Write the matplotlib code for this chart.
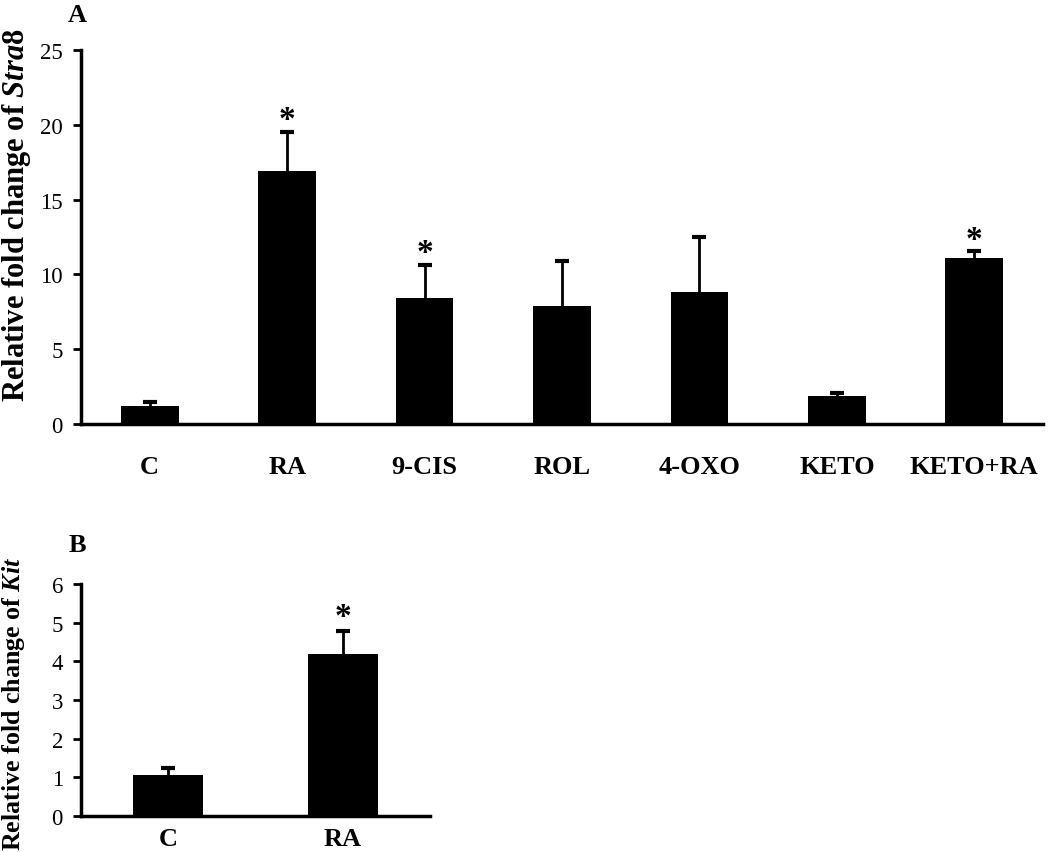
import numpy as np
import matplotlib

matplotlib.use("Agg")
import matplotlib.pyplot as plt

plt.rcParams["font.family"] = ["Liberation Serif", "DejaVu Serif"]
plt.rcParams["mathtext.fontset"] = "custom"
plt.rcParams["mathtext.it"] = "Liberation Serif:italic:bold"
plt.rcParams["mathtext.rm"] = "Liberation Serif:bold"

# panel A: Stra8
groups_a = ["C", "RA", "9-CIS", "ROL", "4-OXO", "KETO", "KETO+RA"]
mean_a = [1.2, 16.9, 8.4, 7.9, 8.8, 1.9, 11.1]
err_a = [0.25, 2.65, 2.25, 3.0, 3.7, 0.2, 0.45]
sig_a = [False, True, True, False, False, False, True]

# panel B: Kit
groups_b = ["C", "RA"]
mean_b = [1.06, 4.18]
err_b = [0.18, 0.6]
sig_b = [False, True]

W, H = 1050, 853
fig = plt.figure(figsize=(W / 100, H / 100), dpi=100)


def panel(rect, groups, mean, err, sig, ymax, step, width, xpad, star_off):
    ax = fig.add_axes(rect)
    x = np.arange(len(groups))
    ax.bar(x, mean, width=width, color="black", zorder=2)
    _, caps, _ = ax.errorbar(x, mean, yerr=[np.zeros(len(mean)), err], fmt="none",
                             ecolor="black", elinewidth=2, capsize=5, capthick=3,
                             zorder=1)
    caps[0].set_visible(False)  # only the upper whisker
    for xi, m, e, s in zip(x, mean, err, sig):
        if s:
            ax.text(xi, m + e + star_off, "*", ha="center", va="center",
                    fontsize=24, fontweight="bold")
    ax.set_xlim(-0.5, len(groups) - 0.5)
    ax.set_ylim(0, ymax)
    ax.set_yticks(np.arange(0, ymax + 0.1, step))
    ax.set_xticks(x)
    ax.set_xticklabels(groups, fontsize=19, fontweight="bold")
    ax.tick_params(axis="x", length=0, pad=xpad)
    ax.tick_params(axis="y", direction="out", length=6, width=2, labelsize=16.5, pad=7)
    for sp in ["top", "right"]:
        ax.spines[sp].set_visible(False)
    for sp in ["left", "bottom"]:
        ax.spines[sp].set_linewidth(2.5)
    return ax


axA = panel([81 / W, 1 - 425 / H, (1043 - 81) / W, (425 - 51) / H],
            groups_a, mean_a, err_a, sig_a, 25, 5, 0.42, 22, 0.8)
axB = panel([81 / W, 1 - 817 / H, (430 - 81) / W, (817 - 585) / H],
            groups_b, mean_b, err_b, sig_b, 6, 1, 0.4, 8, 0.37)

# y labels placed in figure pixels (they are not centred on the axes)
fig.text(17 / W, 1 - 28 / H, "Relative fold change of $\\mathit{Stra8}$", rotation=90,
         fontsize=22, fontweight="bold", ha="center", va="top")
fig.text(14 / W, 1 - 851 / H, "Relative fold change of $\\mathit{Kit}$", rotation=90,
         fontsize=18.7, fontweight="bold", ha="center", va="bottom")

fig.text(77 / W, 1 - 15 / H, "A", fontsize=19, fontweight="bold", ha="center", va="center")
fig.text(77 / W, 1 - 545 / H, "B", fontsize=19, fontweight="bold", ha="center", va="center")

fig.savefig("out.png", dpi=100, facecolor="white")
